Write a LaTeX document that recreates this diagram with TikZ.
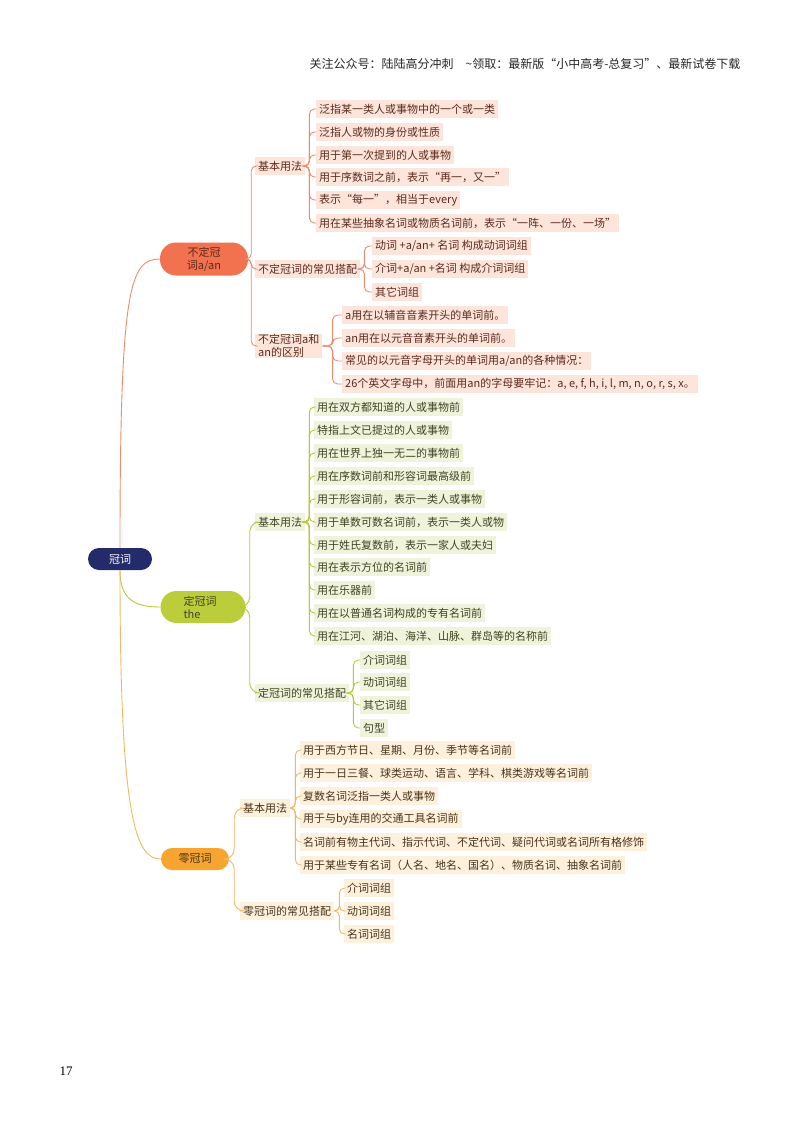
\documentclass[tikz,border=0pt]{standalone}
\usepackage{fontspec}
\setmainfont{Noto Sans CJK SC}
\newfontfamily\numfont{Liberation Serif}
\usepackage{tikz}
\usetikzlibrary{positioning}
\usepackage{xcolor}

\definecolor{rootcol}{HTML}{232B6B}
\definecolor{pillA}{HTML}{F2714E}
\definecolor{lineA}{HTML}{EF8B6C}
\definecolor{fillA}{HTML}{FDE5DB}
\definecolor{textA}{HTML}{5C2A1C}
\definecolor{pillB}{HTML}{BCCD3C}
\definecolor{lineB}{HTML}{B7CA36}
\definecolor{fillB}{HTML}{EFF3DC}
\definecolor{textB}{HTML}{3F4422}
\definecolor{pillC}{HTML}{F6A531}
\definecolor{lineC}{HTML}{F3B860}
\definecolor{fillC}{HTML}{FDF0DD}
\definecolor{textC}{HTML}{4A3318}

\tikzset{
  leaf/.style={anchor=west, inner xsep=3pt, inner ysep=0pt, minimum height=18pt,
    font=\fontsize{11}{12.5}\selectfont},
  leafA/.style={leaf, fill=fillA, text=textA},
  leafB/.style={leaf, fill=fillB, text=textB},
  leafC/.style={leaf, fill=fillC, text=textC},
  pill/.style={rounded corners=#1, inner sep=2pt, font=\fontsize{11}{13}\selectfont},
  wire/.style={line width=0.9pt, rounded corners=5pt},
}

\begin{document}
\begin{tikzpicture}[x=1pt,y=-1pt]
\useasboundingbox[fill=white] (0,0) rectangle (800,1132);

\node[font=\fontsize{12}{14}\selectfont, text=black!85] (head) at (525,64)
  {关注公众号：陆陆高分冲刺\quad\textasciitilde 领取：最新版“小中高考-总复习”、最新试卷下载};
\node[font=\numfont\fontsize{13}{15}\selectfont] (pagenum) at (66,1071) {17};

% root
\node[pill=11pt, fill=rootcol, text=white, minimum width=64pt, minimum height=22pt] (root) at (120,559) {冠词};

% 不定冠词
\node[pill=16pt, fill=pillA, text=textA, minimum width=88pt, minimum height=33pt, align=center] (art1) at (204,259) {不定冠\\词a/an};
\node[leafA] (a1) at (255,166) {基本用法};
\node[leafA] (a2) at (255,269) {不定冠词的常见搭配};
\node[leafA, align=left, inner ysep=1pt] (a3) at (255,346) {不定冠词a和\\an的区别};

\node[leafA] (a1-1) at (316,109) {泛指某一类人或事物中的一个或一类};
\node[leafA] (a1-2) at (316,132) {泛指人或物的身份或性质};
\node[leafA] (a1-3) at (316,155) {用于第一次提到的人或事物};
\node[leafA] (a1-4) at (316,177) {用于序数词之前，表示“再一，又一”};
\node[leafA] (a1-5) at (316,200) {表示“每一”，相当于every};
\node[leafA] (a1-6) at (316,223) {用在某些抽象名词或物质名词前，表示“一阵、一份、一场”};

\node[leafA] (a2-1) at (372,246) {动词 +a/an+ 名词 构成动词词组};
\node[leafA] (a2-2) at (372,269) {介词+a/an +名词 构成介词词组};
\node[leafA] (a2-3) at (372,292) {其它词组};

\node[leafA] (a3-1) at (342,315) {a用在以辅音音素开头的单词前。};
\node[leafA] (a3-2) at (342,338) {an用在以元音音素开头的单词前。};
\node[leafA] (a3-3) at (342,361) {常见的以元音字母开头的单词用a/an的各种情况：};
\node[leafA] (a3-4) at (342,384) {26个英文字母中，前面用an的字母要牢记：a, e, f, h, i, l, m, n, o, r, s, x。};

% 定冠词
\node[pill=16pt, fill=pillB, text=textB, minimum width=85pt, minimum height=32pt, align=left] (art2) at (203,607) {定冠词\\the\hspace*{2em}};
\node[leafB] (b1) at (255,522) {基本用法};
\node[leafB] (b2) at (255,693) {定冠词的常见搭配};

\node[leafB] (b1-1) at (314,407) {用在双方都知道的人或事物前};
\node[leafB] (b1-2) at (314,430) {特指上文已提过的人或事物};
\node[leafB] (b1-3) at (314,453) {用在世界上独一无二的事物前};
\node[leafB] (b1-4) at (314,476) {用在序数词前和形容词最高级前};
\node[leafB] (b1-5) at (314,499) {用于形容词前，表示一类人或事物};
\node[leafB] (b1-6) at (314,522) {用于单数可数名词前，表示一类人或物};
\node[leafB] (b1-7) at (314,545) {用于姓氏复数前，表示一家人或夫妇};
\node[leafB] (b1-8) at (314,567) {用在表示方位的名词前};
\node[leafB] (b1-9) at (314,590) {用在乐器前};
\node[leafB] (b1-10) at (314,613) {用在以普通名词构成的专有名词前};
\node[leafB] (b1-11) at (314,636) {用在江河、湖泊、海洋、山脉、群岛等的名称前};

\node[leafB] (b2-1) at (360,660) {介词词组};
\node[leafB] (b2-2) at (360,682) {动词词组};
\node[leafB] (b2-3) at (360,705) {其它词组};
\node[leafB] (b2-4) at (360,728) {句型};

% 零冠词
\node[pill=11pt, fill=pillC, text=textC, minimum width=68pt, minimum height=22pt] (art3) at (195,859) {零冠词};
\node[leafC] (c1) at (240,808) {基本用法};
\node[leafC] (c2) at (240,911) {零冠词的常见搭配};

\node[leafC] (c1-1) at (300,750) {用于西方节日、星期、月份、季节等名词前};
\node[leafC] (c1-2) at (300,773) {用于一日三餐、球类运动、语言、学科、棋类游戏等名词前};
\node[leafC] (c1-3) at (300,796) {复数名词泛指一类人或事物};
\node[leafC] (c1-4) at (300,819) {用于与by连用的交通工具名词前};
\node[leafC] (c1-5) at (300,842) {名词前有物主代词、指示代词、不定代词、疑问代词或名词所有格修饰};
\node[leafC] (c1-6) at (300,865) {用于某些专有名词（人名、地名、国名）、物质名词、抽象名词前};

\node[leafC] (c2-1) at (344,888) {介词词组};
\node[leafC] (c2-2) at (344,911) {动词词组};
\node[leafC] (c2-3) at (344,934) {名词词组};

% root to articles
\draw[lineA, line width=0.9pt] (root.north) .. controls +(0,-260) and +(-30,0) .. (art1.west);
\draw[lineB, line width=0.9pt] (root.south) .. controls +(0,30) and +(-25,0) .. (art2.west);
\draw[lineC, line width=0.9pt] (root.south) .. controls +(0,250) and +(-25,0) .. (art3.west);

% articles to topics
\foreach \s in {a1,a2,a3} \draw[wire, lineA] (art1.east) -- ++(3,0) |- (\s.west);
\foreach \s in {b1,b2} \draw[wire, lineB, rounded corners=10pt] (art2.east) -- ++(4,0) |- (\s.west);
\foreach \s in {c1,c2} \draw[wire, lineC, rounded corners=10pt] (art3.east) -- ++(5,0) |- (\s.west);

% topics to leaves
\foreach \n in {1,...,6} \draw[wire, lineA] (a1.east) -- ++(4,0) |- (a1-\n.west);
\foreach \n in {1,...,3} \draw[wire, lineA] (a2.east) -- ++(4,0) |- (a2-\n.west);
\foreach \n in {1,...,4} \draw[wire, lineA] (a3.east) -- ++(10,0) |- (a3-\n.west);
\foreach \n in {1,...,11} \draw[wire, lineB] (b1.east) -- ++(4,0) |- (b1-\n.west);
\foreach \n in {1,...,4} \draw[wire, lineB] (b2.east) -- ++(4,0) |- (b2-\n.west);
\foreach \n in {1,...,6} \draw[wire, lineC] (c1.east) -- ++(5,0) |- (c1-\n.west);
\foreach \n in {1,...,3} \draw[wire, lineC] (c2.east) -- ++(5,0) |- (c2-\n.west);
\end{tikzpicture}
\end{document}
